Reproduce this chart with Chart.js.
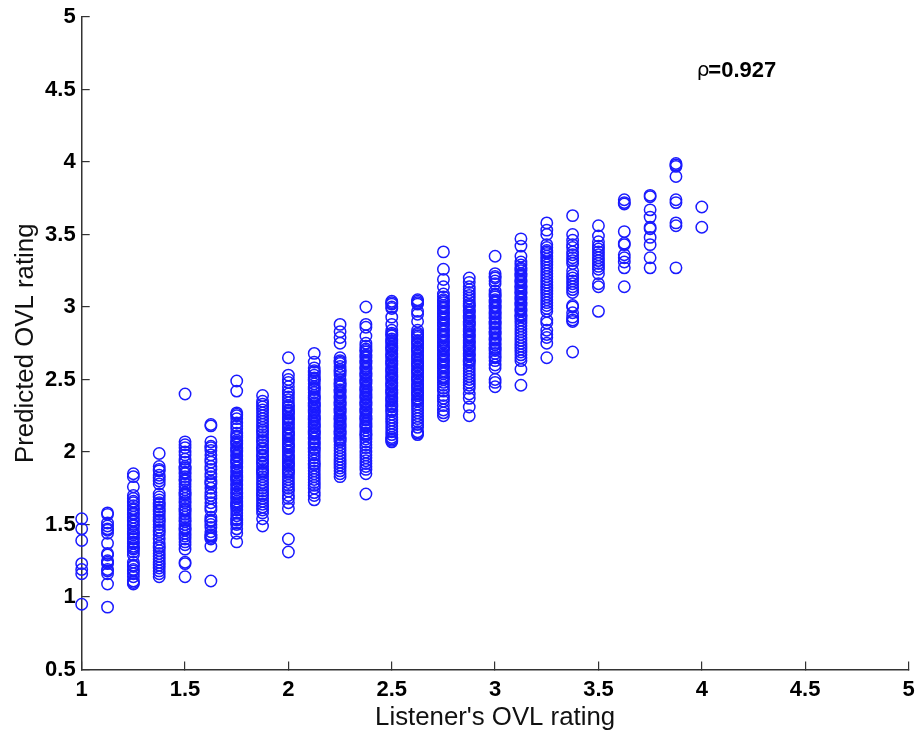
<!DOCTYPE html>
<html><head><meta charset="utf-8">
<style>html,body{margin:0;padding:0;background:#fff}canvas{display:block}</style>
<script src="https://cdn.jsdelivr.net/npm/chart.js@4"></script>
</head><body><canvas id="c" width="920" height="737"></canvas>
<script>
const xTicks=[1,1.5,2,2.5,3,3.5,4,4.5,5];
const yTicks=[0.5,1,1.5,2,2.5,3,3.5,4,4.5,5];
const xTitle="Listener's OVL rating";
const yTitle="Predicted OVL rating";
const rhoSymbol="ρ";
const rhoValue="=0.927";
const listenerRatings=[1,1.125,1.25,1.375,1.5,1.625,1.75,1.875,2,2.125,2.25,2.375,2.5,2.625,2.75,2.875,3,3.125,3.25,3.375,3.5,3.625,3.75,3.875,4];
const c100=[1.54,1.47,1.39,1.23,1.19,1.16,0.95];
const c112=[1.58,1.57,1.51,1.49,1.47,1.46,1.44,1.37,1.30,1.29,1.25,1.24,1.23,1.19,1.18,1.16,1.09,0.93];
const c125=[1.85,1.83,1.76,1.70,1.68,1.66,1.65,1.63,1.61,1.60,1.58,1.57,1.55,1.53,1.52,1.50,1.49,1.47,1.45,1.44,1.43,1.41,1.40,1.38,1.37,1.35,1.34,1.33,1.31,1.29,1.24,1.22,1.21,1.19,1.18,1.16,1.14,1.11,1.10,1.09];
const c137=[1.99,1.90,1.88,1.87,1.84,1.82,1.80,1.78,1.71,1.69,1.67,1.65,1.64,1.62,1.60,1.59,1.57,1.55,1.53,1.52,1.50,1.48,1.46,1.45,1.43,1.40,1.37,1.35,1.34,1.32,1.30,1.28,1.26,1.24,1.22,1.20,1.18,1.16,1.14];
const c150=[2.40,2.07,2.05,2.03,2.00,1.98,1.95,1.93,1.90,1.89,1.88,1.86,1.85,1.83,1.81,1.80,1.78,1.76,1.74,1.72,1.71,1.70,1.68,1.66,1.65,1.63,1.61,1.60,1.59,1.57,1.55,1.53,1.52,1.50,1.48,1.47,1.46,1.44,1.42,1.40,1.38,1.36,1.33,1.24,1.23,1.14];
const c162=[2.19,2.18,2.07,2.04,2.03,2.01,1.98,1.95,1.93,1.90,1.88,1.85,1.83,1.80,1.79,1.78,1.75,1.72,1.70,1.68,1.65,1.62,1.60,1.55,1.53,1.52,1.50,1.48,1.45,1.43,1.42,1.41,1.40,1.35,1.11];
const c175=[2.49,2.42,2.27,2.26,2.25,2.23,2.20,2.18,2.16,2.13,2.11,2.10,2.08,2.07,2.06,2.05,2.03,2.02,2.01,2.00,1.98,1.97,1.95,1.94,1.93,1.92,1.90,1.89,1.87,1.86,1.84,1.83,1.82,1.81,1.80,1.78,1.77,1.75,1.74,1.72,1.71,1.69,1.68,1.66,1.65,1.64,1.63,1.62,1.60,1.58,1.56,1.54,1.53,1.51,1.50,1.47,1.44,1.38];
const c187=[2.39,2.35,2.33,2.31,2.29,2.27,2.25,2.23,2.21,2.19,2.17,2.15,2.14,2.12,2.10,2.08,2.07,2.05,2.03,2.02,2.00,1.98,1.97,1.95,1.93,1.92,1.90,1.88,1.87,1.86,1.85,1.83,1.81,1.79,1.77,1.75,1.73,1.71,1.70,1.68,1.66,1.64,1.62,1.60,1.58,1.54,1.49];
const c200=[2.65,2.53,2.50,2.48,2.45,2.42,2.40,2.38,2.36,2.34,2.32,2.31,2.29,2.28,2.27,2.26,2.24,2.23,2.22,2.20,2.19,2.17,2.16,2.14,2.13,2.12,2.11,2.09,2.08,2.06,2.05,2.04,2.03,2.01,2.00,1.98,1.97,1.96,1.95,1.93,1.92,1.91,1.90,1.88,1.87,1.86,1.85,1.83,1.81,1.79,1.77,1.75,1.73,1.70,1.68,1.65,1.61,1.40,1.31];
const c212=[2.68,2.62,2.58,2.56,2.55,2.53,2.51,2.50,2.49,2.47,2.45,2.44,2.43,2.41,2.39,2.38,2.37,2.36,2.34,2.33,2.32,2.31,2.29,2.28,2.27,2.25,2.24,2.23,2.22,2.20,2.19,2.18,2.17,2.15,2.14,2.13,2.12,2.10,2.09,2.07,2.06,2.05,2.03,2.02,2.00,1.98,1.96,1.94,1.92,1.91,1.89,1.87,1.85,1.83,1.81,1.79,1.77,1.75,1.72,1.70,1.67];
const c225=[2.88,2.83,2.79,2.75,2.65,2.63,2.62,2.61,2.59,2.57,2.56,2.55,2.53,2.50,2.48,2.47,2.46,2.45,2.43,2.42,2.41,2.39,2.38,2.37,2.35,2.34,2.33,2.32,2.30,2.29,2.28,2.27,2.25,2.24,2.23,2.22,2.20,2.19,2.18,2.17,2.15,2.14,2.13,2.12,2.10,2.09,2.08,2.07,2.05,2.03,2.01,1.99,1.97,1.95,1.93,1.91,1.89,1.87,1.85,1.83];
const c237=[3.00,2.88,2.86,2.80,2.75,2.73,2.71,2.70,2.69,2.67,2.66,2.65,2.63,2.62,2.61,2.59,2.58,2.57,2.55,2.54,2.53,2.52,2.50,2.49,2.48,2.47,2.45,2.44,2.43,2.42,2.40,2.39,2.38,2.37,2.35,2.34,2.33,2.32,2.30,2.29,2.28,2.27,2.25,2.24,2.23,2.22,2.20,2.19,2.18,2.17,2.15,2.13,2.12,2.11,2.09,2.07,2.05,2.03,2.00,1.98,1.96,1.94,1.92,1.90,1.88,1.85,1.71];
const c250=[3.04,3.03,3.02,3.00,2.99,2.93,2.88,2.84,2.82,2.81,2.80,2.78,2.77,2.76,2.75,2.73,2.72,2.71,2.70,2.68,2.67,2.66,2.65,2.63,2.62,2.61,2.60,2.58,2.57,2.56,2.55,2.53,2.52,2.51,2.50,2.48,2.47,2.46,2.45,2.43,2.42,2.41,2.40,2.38,2.37,2.36,2.35,2.33,2.32,2.31,2.29,2.28,2.26,2.24,2.22,2.20,2.18,2.16,2.14,2.12,2.10,2.09,2.08,2.07];
const c262=[3.05,3.04,3.03,3.02,2.97,2.95,2.90,2.84,2.82,2.81,2.80,2.79,2.77,2.76,2.75,2.74,2.72,2.71,2.70,2.69,2.67,2.66,2.65,2.64,2.62,2.61,2.60,2.59,2.57,2.56,2.55,2.54,2.52,2.51,2.50,2.49,2.47,2.46,2.45,2.44,2.42,2.41,2.40,2.39,2.37,2.36,2.35,2.33,2.31,2.29,2.27,2.25,2.23,2.21,2.19,2.17,2.14,2.13,2.12];
const c275=[3.38,3.26,3.19,3.14,3.09,3.07,3.05,3.04,3.03,3.01,3.00,2.99,2.97,2.96,2.95,2.93,2.92,2.91,2.89,2.88,2.87,2.85,2.84,2.83,2.81,2.80,2.79,2.77,2.76,2.75,2.73,2.72,2.71,2.70,2.68,2.67,2.66,2.64,2.63,2.62,2.60,2.59,2.58,2.56,2.55,2.54,2.52,2.51,2.50,2.48,2.46,2.44,2.42,2.39,2.37,2.35,2.32,2.29,2.27,2.25];
const c287=[3.20,3.17,3.14,3.12,3.10,3.08,3.06,3.04,3.02,3.01,3.00,2.98,2.97,2.96,2.94,2.93,2.92,2.90,2.89,2.88,2.87,2.85,2.84,2.83,2.81,2.80,2.79,2.77,2.76,2.75,2.73,2.72,2.71,2.70,2.68,2.67,2.66,2.64,2.63,2.62,2.60,2.58,2.56,2.54,2.52,2.50,2.48,2.46,2.44,2.40,2.37,2.31,2.25];
const c300=[3.35,3.23,3.21,3.20,3.18,3.16,3.11,3.09,3.08,3.07,3.05,3.04,3.03,3.01,3.00,2.99,2.97,2.96,2.95,2.93,2.92,2.90,2.89,2.88,2.86,2.85,2.83,2.82,2.81,2.79,2.78,2.77,2.75,2.74,2.72,2.71,2.70,2.68,2.66,2.65,2.63,2.60,2.58,2.50,2.48,2.45];
const c312=[3.47,3.42,3.35,3.31,3.29,3.27,3.26,3.25,3.23,3.22,3.21,3.19,3.18,3.17,3.15,3.14,3.13,3.11,3.10,3.09,3.07,3.06,3.05,3.03,3.02,3.01,2.99,2.98,2.97,2.95,2.94,2.93,2.91,2.89,2.87,2.85,2.83,2.81,2.79,2.77,2.75,2.73,2.71,2.69,2.67,2.65,2.63,2.57,2.46];
const c325=[3.58,3.53,3.50,3.43,3.41,3.39,3.38,3.37,3.35,3.33,3.31,3.29,3.27,3.25,3.23,3.21,3.19,3.17,3.15,3.13,3.11,3.09,3.07,3.05,3.03,3.01,2.99,2.97,2.91,2.89,2.84,2.81,2.79,2.75,2.65];
const c337=[3.63,3.50,3.46,3.43,3.41,3.38,3.36,3.34,3.32,3.30,3.25,3.22,3.20,3.18,3.16,3.14,3.12,3.10,3.01,3.00,2.96,2.93,2.91,2.90,2.69];
const c350=[3.56,3.49,3.45,3.42,3.40,3.38,3.36,3.34,3.32,3.30,3.28,3.26,3.23,3.16,3.14,2.97];
const c362=[3.74,3.72,3.71,3.52,3.44,3.43,3.36,3.34,3.31,3.27,3.14];
const c375=[3.77,3.76,3.67,3.62,3.55,3.54,3.48,3.43,3.34,3.27];
const c387=[3.99,3.98,3.97,3.90,3.74,3.72,3.58,3.56,3.27];
const c400=[3.69,3.55];
const columns=[c100,c112,c125,c137,c150,c162,c175,c187,c200,c212,c225,c237,c250,c262,c275,c287,c300,c312,c325,c337,c350,c362,c375,c387,c400];
const points=[];
columns.forEach((col,i)=>col.forEach(y=>points.push({x:listenerRatings[i],y})));

const rhoLabel={id:'rhoLabel',afterDraw(ch){
  const g=ch.ctx,sx=ch.scales.x,sy=ch.scales.y;
  const px=sx.getPixelForValue(3.975),py=sy.getPixelForValue(4.63);
  g.save();g.fillStyle='#000';g.textBaseline='middle';g.textAlign='left';
  g.font='20px "DejaVu Sans"';g.fillText(rhoSymbol,px,py);
  const w=g.measureText(rhoSymbol).width;
  g.font='bold 22px "Liberation Sans"';g.fillText(rhoValue,px+w-1,py);
  g.restore();
}};
const tickFont={family:'"Liberation Sans"',size:22,weight:'bold'};
const titleFont={family:'"Liberation Sans"',size:25.8};
new Chart(document.getElementById('c'),{
  type:'scatter',
  data:{datasets:[{data:points,showLine:false,clip:false,pointStyle:'circle',pointRadius:5.7,pointBorderWidth:1.5,pointBorderColor:'#1a1aff',pointBackgroundColor:'rgba(0,0,0,0)'}]},
  options:{
    responsive:false,animation:false,devicePixelRatio:1,
    layout:{padding:{left:0,top:17,right:11.5,bottom:0}},
    plugins:{legend:{display:false},tooltip:{enabled:false}},
    scales:{
      x:{type:'linear',min:1,max:5,
        afterFit:s=>{s.height=67.5;s.paddingRight=0;s.paddingLeft=0},
        afterBuildTicks:s=>{s.ticks=xTicks.map(v=>({value:v}))},
        border:{color:'#333',width:1.5},
        grid:{drawOnChartArea:false,drawTicks:true,tickLength:-8,color:'#333',lineWidth:1.2},
        ticks:{color:'#000',font:tickFont,padding:15,maxRotation:0,autoSkip:false,callback:v=>String(v)},
        title:{display:true,text:xTitle,color:'#111',font:titleFont,padding:{top:0,bottom:4}}},
      y:{type:'linear',min:0.5,max:5,
        afterFit:s=>{s.width=81.7;s.paddingTop=0;s.paddingBottom=0},
        afterBuildTicks:s=>{s.ticks=yTicks.map(v=>({value:v}))},
        border:{color:'#333',width:1.5},
        grid:{drawOnChartArea:false,drawTicks:true,tickLength:-8,color:'#333',lineWidth:1.2},
        ticks:{color:'#000',font:tickFont,padding:14,autoSkip:false,callback:v=>String(v)},
        title:{display:true,text:yTitle,color:'#111',font:titleFont,padding:{top:10,bottom:0}}}
    }
  },
  plugins:[rhoLabel]
});
</script></body></html>
